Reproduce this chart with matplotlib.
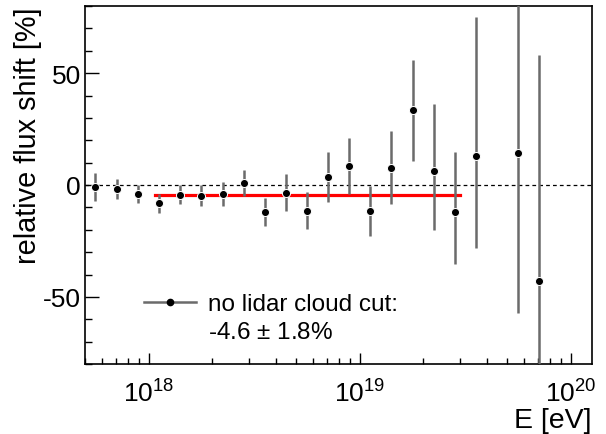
import matplotlib
matplotlib.use("Agg")
import matplotlib.pyplot as plt
from matplotlib.ticker import MultipleLocator, LogLocator, NullFormatter

plt.rcParams['font.family'] = ['Liberation Sans', 'DejaVu Sans']
plt.rcParams['mathtext.fontset'] = 'custom'
plt.rcParams['mathtext.rm'] = 'Liberation Sans'
plt.rcParams['mathtext.it'] = 'Liberation Sans:italic'
plt.rcParams['axes.unicode_minus'] = False

# ========== data ==========
energy = [5.6e17, 7.1e17, 8.9e17, 1.12e18, 1.41e18, 1.78e18, 2.24e18,
          2.82e18, 3.55e18, 4.47e18, 5.62e18, 7.08e18, 8.91e18, 1.12e19,
          1.41e19, 1.78e19, 2.24e19, 2.82e19, 3.55e19, 5.62e19, 7.08e19]
shift = [-0.9, -1.6, -4.0, -8.2, -4.3, -4.8, -4.0,
         1.0, -12.2, -3.4, -11.5, 3.6, 8.5, -11.5,
         7.6, 33.4, 6.2, -12.2, 13.1, 14.4, -42.7]
err_lo = [6.1, 4.5, 3.9, 4.1, 4.2, 4.7, 5.2,
          5.8, 6.3, 8.3, 8.2, 11.0, 12.6, 11.1,
          16.1, 22.5, 26.3, 23.2, 41.1, 71.7, 60.0]
err_hi = [6.1, 4.5, 3.9, 4.1, 4.2, 4.7, 5.2,
          5.8, 6.3, 8.3, 8.2, 11.0, 12.4, 11.1,
          16.4, 22.5, 30.0, 26.8, 61.8, 80.0, 100.7]

fit_range = [1.07e18, 3.0e19]
fit_value = -4.6
fit_error = 1.8

gray = '#6b6b6b'
fs = 19

fig = plt.figure(figsize=(6.06, 4.35), dpi=100)
ax = fig.add_axes([85 / 606, 1 - 365 / 435, 507 / 606, 358 / 435])

ax.axhline(0, color='black', lw=0.9, ls=(0, (3, 2.5)), zorder=1)
ax.errorbar(energy, shift, yerr=[err_lo, err_hi], fmt='o', color='black',
            ecolor=gray, elinewidth=1.8, capsize=0, markersize=5.8,
            markeredgecolor='white', markeredgewidth=0.7, zorder=3)
ax.plot(fit_range, [fit_value, fit_value], color='#ff0000', lw=2.3, zorder=2)

ax.set_xscale('log')
ax.set_xlim(5e17, 1.26e20)
ax.set_ylim(-80, 80)

ax.yaxis.set_major_locator(MultipleLocator(50))
ax.yaxis.set_minor_locator(MultipleLocator(10))
ax.xaxis.set_major_locator(LogLocator(base=10))
ax.xaxis.set_minor_locator(LogLocator(base=10, subs=range(2, 10)))
ax.xaxis.set_minor_formatter(NullFormatter())

ax.tick_params(axis='both', which='both', direction='in', labelsize=fs,
               top=False, right=False, width=1.0)
ax.tick_params(axis='y', which='major', length=10, pad=3)
ax.tick_params(axis='y', which='minor', length=5)
ax.tick_params(axis='x', which='major', length=8, pad=11)
ax.tick_params(axis='x', which='minor', length=4)
for sp in ax.spines.values():
    sp.set_linewidth(1.2)

ax.set_ylabel('relative flux shift [%]', fontsize=fs + 1.8, loc='top')
ax.yaxis.set_label_coords(-0.085, 1.0)
ax.set_xlabel('E [eV]', fontsize=fs + 1.5, loc='right')
ax.xaxis.set_label_coords(1.0, -0.12)

# legend drawn by hand, ROOT style
ax.plot([0.116, 0.219], [0.173, 0.173], transform=ax.transAxes,
        color=gray, lw=1.8, clip_on=False)
ax.plot([0.168], [0.173], 'o', transform=ax.transAxes, color='black',
        markersize=4.5)
ax.text(0.243, 0.151, 'no lidar cloud cut:', transform=ax.transAxes,
        fontsize=17.5, va='baseline')
ax.text(0.243, 0.073, f'{fit_value} $\\pm$ {fit_error}%', transform=ax.transAxes,
        fontsize=17.5, va='baseline')

fig.savefig('out.png', dpi=100)
